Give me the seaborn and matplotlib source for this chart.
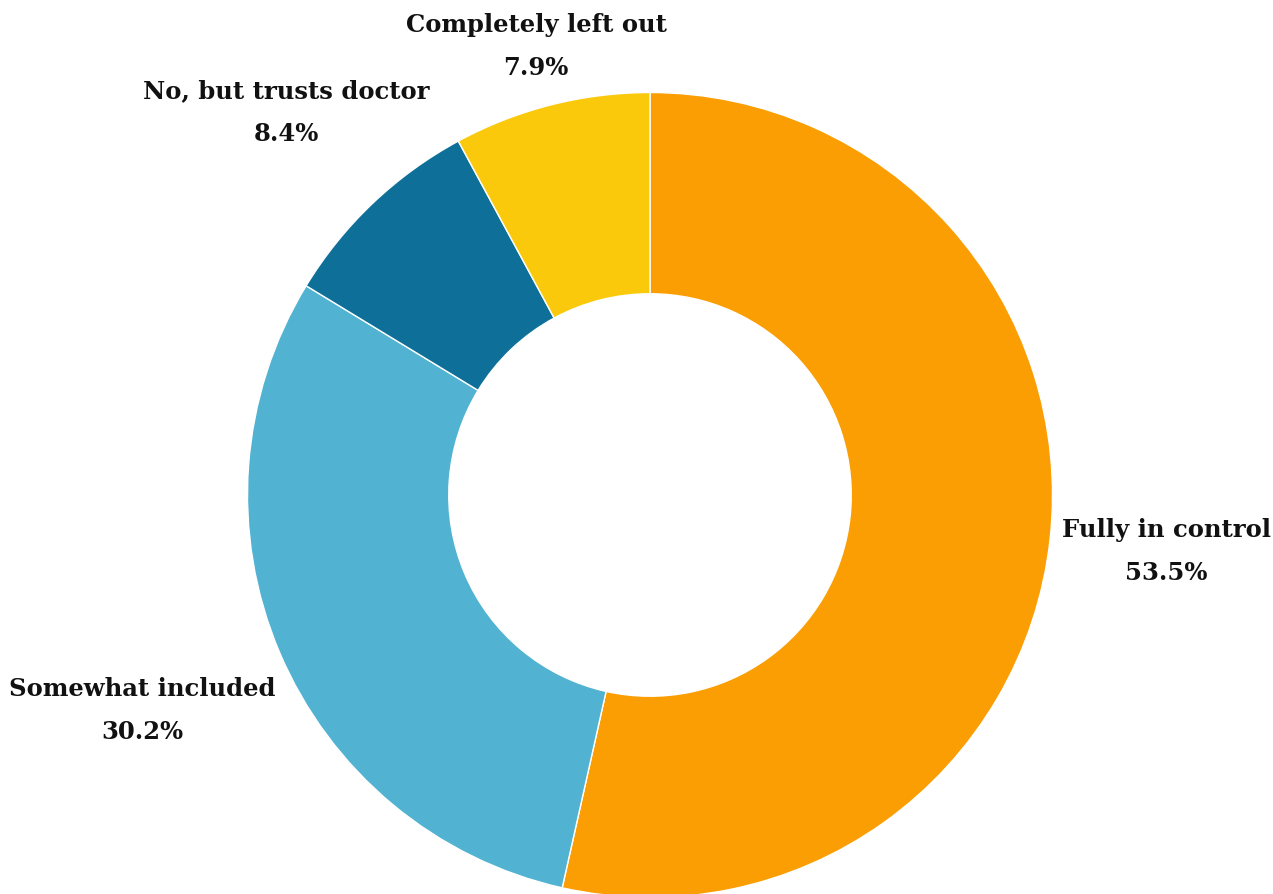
import matplotlib
matplotlib.use("Agg")
import matplotlib.pyplot as plt
import seaborn as sns
import numpy as np

sns.set_theme(style="white")
plt.rcParams['font.family'] = ['DejaVu Serif']

categories = ["Fully in control", "Somewhat included", "No, but trusts doctor", "Completely left out"]
values = [53.5, 30.2, 8.4, 7.9]
colors = ["#FA9E03", "#51B2D2", "#0E7098", "#FBC90C"]

# layout
label_radius = [1.29, 1.37, 1.31, 1.15]

fig = plt.figure(figsize=(12.73, 8.94), dpi=100)
ax = fig.add_axes([0, 0, 1, 1])
R = 402.5
cx, cy = 650, 495

wedges, _ = ax.pie(values, colors=colors, startangle=90, counterclock=False,
                   radius=1.0, wedgeprops=dict(width=0.5, edgecolor='white', linewidth=1))
ax.set_xlim(-cx / R, (1273 - cx) / R)
ax.set_ylim(-(894 - cy) / R, cy / R)
ax.set_aspect('equal')
ax.axis('off')

for w, cat, v, d in zip(wedges, categories, values, label_radius):
    ang = np.deg2rad((w.theta1 + w.theta2) / 2)
    x, y = d * np.cos(ang), d * np.sin(ang)
    ax.text(x, y, f"{cat}\n{v:.1f}%", ha='center', va='center', fontsize=17.5,
            fontweight='bold', color='#111111', linespacing=2.0)

fig.savefig("out.png", dpi=100)
